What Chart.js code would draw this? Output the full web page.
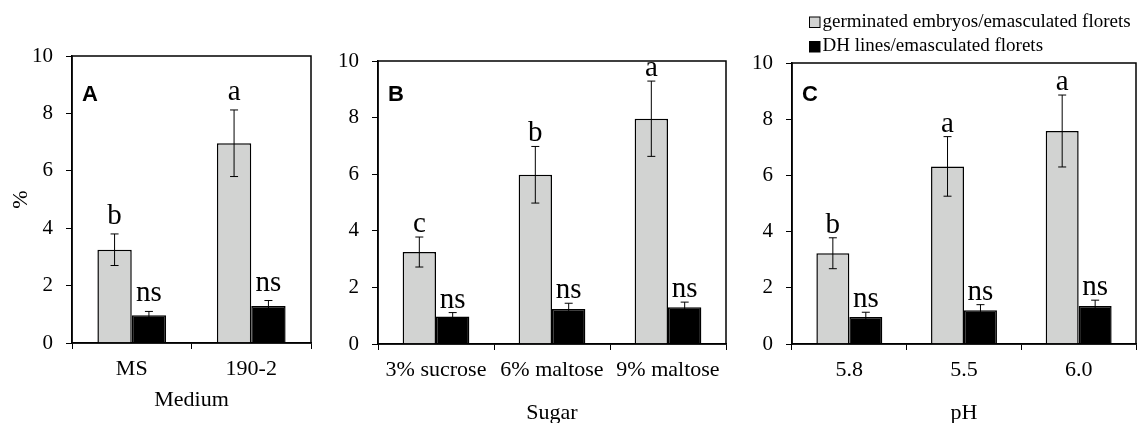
<!DOCTYPE html>
<html>
<head>
<meta charset="utf-8">
<script src="https://cdn.jsdelivr.net/npm/chart.js@4"></script>
<style>
  body{margin:0;background:#fff;}
  #wrap{position:relative;width:1137px;height:423px;overflow:hidden;background:#fff;}
  canvas{position:absolute;top:0;}
</style>
</head>
<body>
<div id="wrap">
  <canvas id="panelA" width="330" height="423" style="left:0px"></canvas>
  <canvas id="panelB" width="400" height="423" style="left:330px"></canvas>
  <canvas id="panelC" width="397" height="423" style="left:740px"></canvas>
</div>
<script>
// data (%)
const seriesNames = ["germinated embryos/emasculated florets", "DH lines/emasculated florets"];
const yTicks = [0, 2, 4, 6, 8, 10];

const mediumLabels = ["MS", "190-2"];
const germMedium = [3.25, 6.96];
const germMediumErr = [0.55, 1.16];
const germMediumSig = ["b", "a"];
const dhMedium = [0.97, 1.29];
const dhMediumErr = [0.13, 0.19];
const dhMediumSig = ["ns", "ns"];

const sugarLabels = ["3% sucrose", "6% maltose", "9% maltose"];
const germSugar = [3.25, 5.98, 7.96];
const germSugarErr = [0.53, 1.0, 1.33];
const germSugarSig = ["c", "b", "a"];
const dhSugar = [0.97, 1.24, 1.30];
const dhSugarErr = [0.14, 0.2, 0.18];
const dhSugarSig = ["ns", "ns", "ns"];

const phLabels = ["5.8", "5.5", "6.0"];
const germPh = [3.23, 6.32, 7.58];
const germPhErr = [0.55, 1.06, 1.28];
const germPhSig = ["b", "a", "a"];
const dhPh = [0.96, 1.20, 1.35];
const dhPhErr = [0.17, 0.2, 0.21];
const dhPhSig = ["ns", "ns", "ns"];

const serif = '"Liberation Serif", "Times New Roman", serif';
const GRAY = "#d2d3d2";
Chart.defaults.font.family = serif;
Chart.defaults.color = "#000";

// error bars, significance letters, frame, panel tag, legend
const panelExtras = {
  id: "panelExtras",
  afterDatasetsDraw(chart, args, opts) {
    const ctx = chart.ctx, a = chart.chartArea, y = chart.scales.y;
    ctx.save();
    ctx.strokeStyle = "#000";
    ctx.fillStyle = "#000";
    chart.data.datasets.forEach((ds, i) => {
      chart.getDatasetMeta(i).data.forEach((bar, j) => {
        const v = ds.data[j], e = ds.errors[j];
        const yt = y.getPixelForValue(v + e), yb = y.getPixelForValue(v - e);
        ctx.lineWidth = 1;
        ctx.beginPath();
        ctx.moveTo(bar.x, yt); ctx.lineTo(bar.x, yb);
        ctx.moveTo(bar.x - 4, yt); ctx.lineTo(bar.x + 4, yt);
        ctx.moveTo(bar.x - 4, yb); ctx.lineTo(bar.x + 4, yb);
        ctx.stroke();
        ctx.font = "29px " + serif;
        ctx.textAlign = "center";
        ctx.textBaseline = "alphabetic";
        ctx.fillText(ds.letters[j], bar.x, yt - opts.gap);
      });
    });
    ctx.lineWidth = 1.5;
    ctx.strokeRect(a.left, a.top, a.right - a.left, a.bottom - a.top);
    ctx.font = 'bold 22px "Liberation Sans", Arial, sans-serif';
    ctx.textAlign = "left";
    ctx.fillText(opts.tag, a.left + 10, 101);
    if (opts.legend) {
      ctx.font = "19px " + serif;
      ctx.textBaseline = "middle";
      chart.data.datasets.forEach((ds, i) => {
        const cy = 22 + i * 24.5;
        ctx.fillStyle = ds.backgroundColor;
        ctx.fillRect(69.5, cy - 5, 10.5, 10.5);
        ctx.lineWidth = 1;
        ctx.strokeRect(69.5, cy - 5, 10.5, 10.5);
        ctx.fillStyle = "#000";
        ctx.fillText(ds.label, 82.5, cy);
      });
    }
    ctx.restore();
  }
};

function makePanel(id, labels, germ, germErr, germSig, dh, dhErr, dhSig, look) {
  new Chart(document.getElementById(id), {
    type: "bar",
    data: {
      labels: labels,
      datasets: [
        {label: seriesNames[0], data: germ, errors: germErr, letters: germSig,
         backgroundColor: GRAY, borderColor: "#000", borderWidth: 1.5},
        {label: seriesNames[1], data: dh, errors: dhErr, letters: dhSig,
         backgroundColor: "#000", borderColor: "#000", borderWidth: 1.5}
      ]
    },
    options: {
      responsive: false,
      animation: false,
      datasets: {bar: {categoryPercentage: 0.575, barPercentage: 1}},
      layout: {padding: {top: look.top, right: look.right, left: 0, bottom: 0}},
      plugins: {
        legend: {display: false},
        tooltip: {enabled: false},
        panelExtras: {tag: look.tag, gap: look.gap, legend: !!look.legend}
      },
      scales: {
        x: {
          grid: {drawOnChartArea: false, drawTicks: true, tickLength: 6, color: "#000", lineWidth: 1},
          border: {color: "#000", width: 1.5},
          ticks: {color: "#000", font: {size: 22}, padding: 7, maxRotation: 0, autoSkip: false},
          title: {display: true, text: look.xTitle, color: "#000",
                  font: {size: 22, lineHeight: 0.9}, padding: {top: 0, bottom: look.titlePad}},
          afterFit: s => { s.height = look.xh; }
        },
        y: {
          min: 0, max: 10,
          afterBuildTicks: s => { s.ticks = yTicks.map(v => ({value: v})); },
          grid: {drawOnChartArea: false, drawTicks: true, tickLength: 6, color: "#000", lineWidth: 1},
          border: {color: "#000", width: 1.5},
          ticks: {color: "#000", font: {size: 21}, padding: 13},
          title: {display: !!look.yTitle, text: look.yTitle || "", color: "#000",
                  font: {size: 22, lineHeight: 0.9}, padding: {top: 11, bottom: 0}},
          afterFit: s => { s.width = look.yw; }
        }
      }
    },
    plugins: [panelExtras]
  });
}

makePanel("panelA", mediumLabels, germMedium, germMediumErr, germMediumSig, dhMedium, dhMediumErr, dhMediumSig,
  {tag: "A", xTitle: "Medium", yTitle: "%", top: 56, right: 19, yw: 72, xh: 80, titlePad: 13, gap: 10});
makePanel("panelB", sugarLabels, germSugar, germSugarErr, germSugarSig, dhSugar, dhSugarErr, dhSugarSig,
  {tag: "B", xTitle: "Sugar", top: 61, right: 4, yw: 48, xh: 79, titlePad: 0, gap: 5});
makePanel("panelC", phLabels, germPh, germPhErr, germPhSig, dhPh, dhPhErr, dhPhSig,
  {tag: "C", xTitle: "pH", top: 63, right: 1, yw: 52, xh: 79, titlePad: 0, gap: 5, legend: true});
</script>
</body>
</html>
